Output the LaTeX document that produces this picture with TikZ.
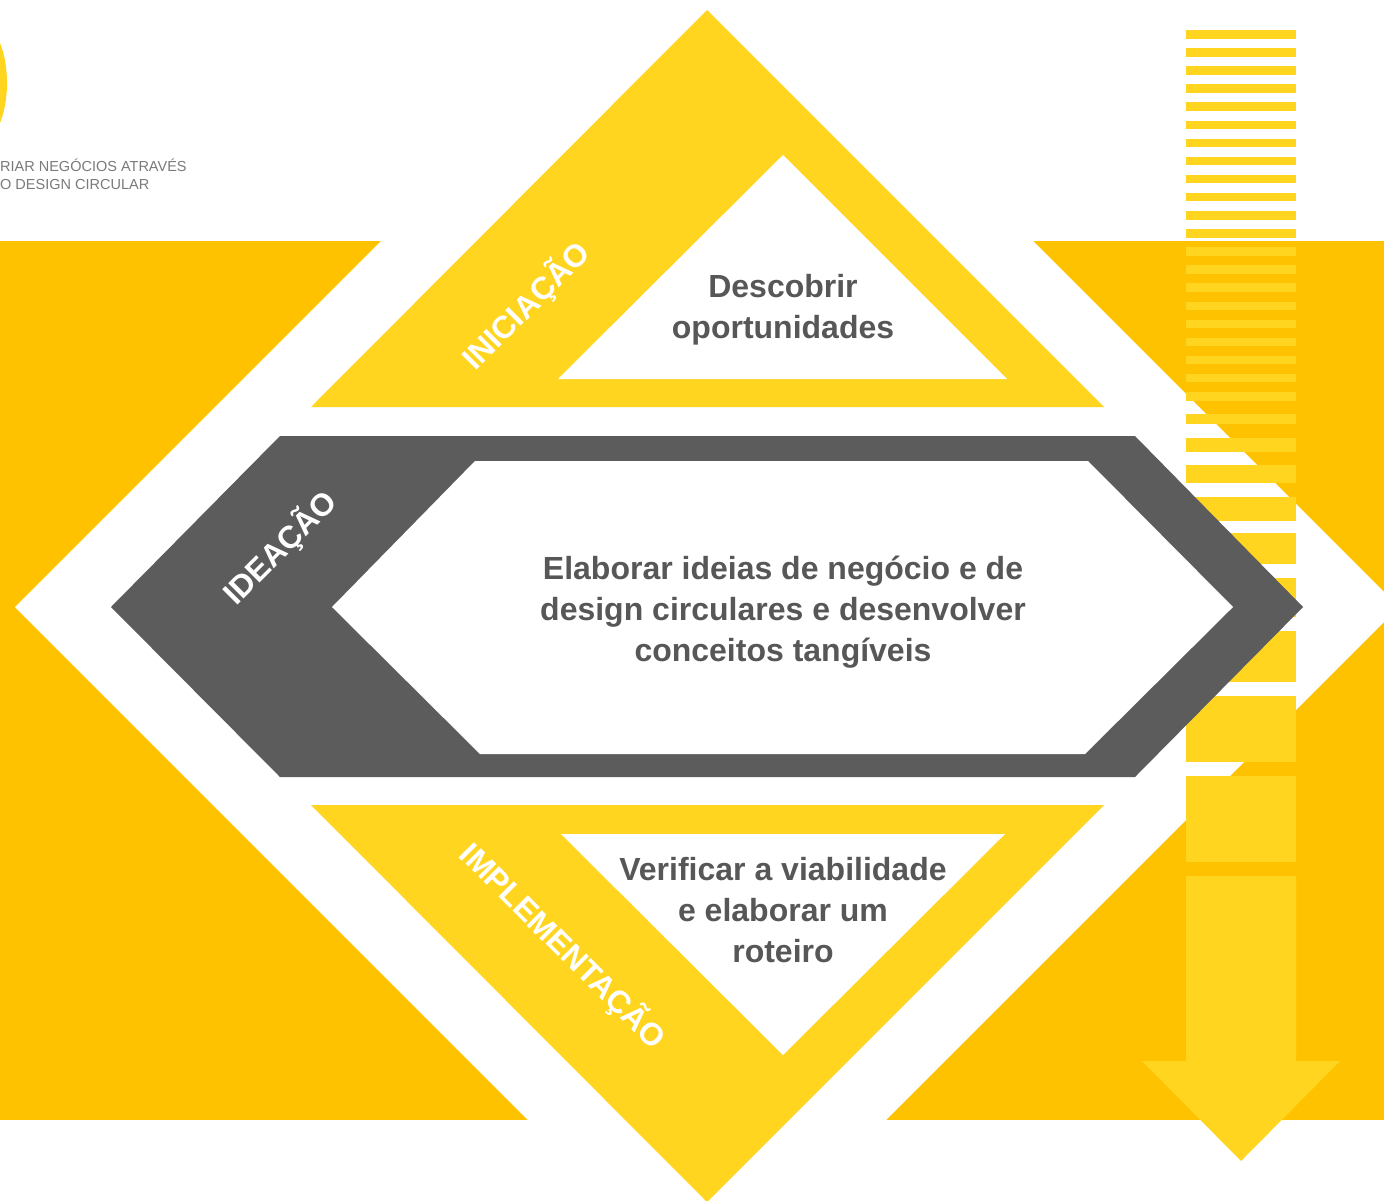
\documentclass[tikz,border=0pt]{standalone}
\usepackage{fontspec}
\setmainfont{Liberation Sans}
\definecolor{orangeY}{HTML}{FFC200}
\definecolor{yellowY}{HTML}{FFD520}
\definecolor{greyD}{HTML}{5C5C5C}
\definecolor{txtG}{HTML}{575757}
\definecolor{hdrG}{HTML}{7A7A7A}
\begin{document}
\begin{tikzpicture}[x=1pt,y=-1pt,
  stripe/.style={fill=yellowY},
  maintxt/.style={text=txtG,font=\fontsize{32}{41}\selectfont\bfseries,align=center,inner sep=0pt},
  phase/.style={text=white,font=\fontsize{31.5}{34}\selectfont\bfseries,inner sep=0pt},
  hdr/.style={text=hdrG,font=\fontsize{14.5}{20}\selectfont,anchor=west,inner sep=0pt}]
\useasboundingbox (0,0) rectangle (1384,1200);
\fill[white] (0,0) rectangle (1384,1200);
% orange band with white diamond
\fill[orangeY] (0,241) rectangle (1384,1120);
\fill[white] (707,-85) -- (1399,607) -- (707,1299) -- (15,607) -- cycle;
% logo sliver
\fill[yellowY] (-20.5,83) ellipse [x radius=27.5, y radius=60];
\node[hdr] (h1) at (0,165) {RIAR NEGÓCIOS ATRAVÉS};
\node[hdr] (h2) at (0,185) {O DESIGN CIRCULAR};
% striped arrow
\foreach \i in {0,...,20} {\fill[stripe] (1186,{30+18.1*\i}) rectangle (1296,{38.5+18.1*\i});}
\foreach \a/\b in {413.5/424,438/452,465/483,497/521,533/564,578/617,631/682,696/762,776/862} {\fill[stripe] (1186,\a) rectangle (1296,\b);}
\fill[stripe] (1186,876) -- (1296,876) -- (1296,1061) -- (1340,1061) -- (1241,1161) -- (1142,1061) -- (1186,1061) -- cycle;
% top triangle
\fill[yellowY] (707,10) -- (1104,407) -- (311,407) -- cycle;
\fill[white] (783,155) -- (1007,379) -- (558,379) -- cycle;
% middle hexagon
\fill[greyD] (280,436) -- (1135,436) -- (1303,607) -- (1135,777) -- (280,777) -- (111,607) -- cycle;
\fill[white] (475,461) -- (1088,461) -- (1233,607) -- (1085,754) -- (480,754) -- (332,607) -- cycle;
% bottom triangle
\fill[yellowY] (311,805) -- (1104,805) -- (707,1202) -- cycle;
\fill[white] (561,834) -- (1005,834) -- (783,1055) -- cycle;
% texts
\node[maintxt] (t1) at (783,310) {Descobrir\\oportunidades};
\node[maintxt] (t2) at (783,612) {Elaborar ideias de negócio e de\\design circulares e desenvolver\\conceitos tangíveis};
\node[maintxt] (t3) at (783,910) {Verificar a viabilidade\\e elaborar um\\roteiro};
\node[phase,rotate=45] (p1) at (526,306) {INICIAÇÃO};
\node[phase,rotate=45] (p2) at (280,548) {IDEAÇÃO};
\node[phase,rotate=-45] (p3) at (563,946) {IMPLEMENTAÇÃO};
\end{tikzpicture}
\end{document}
